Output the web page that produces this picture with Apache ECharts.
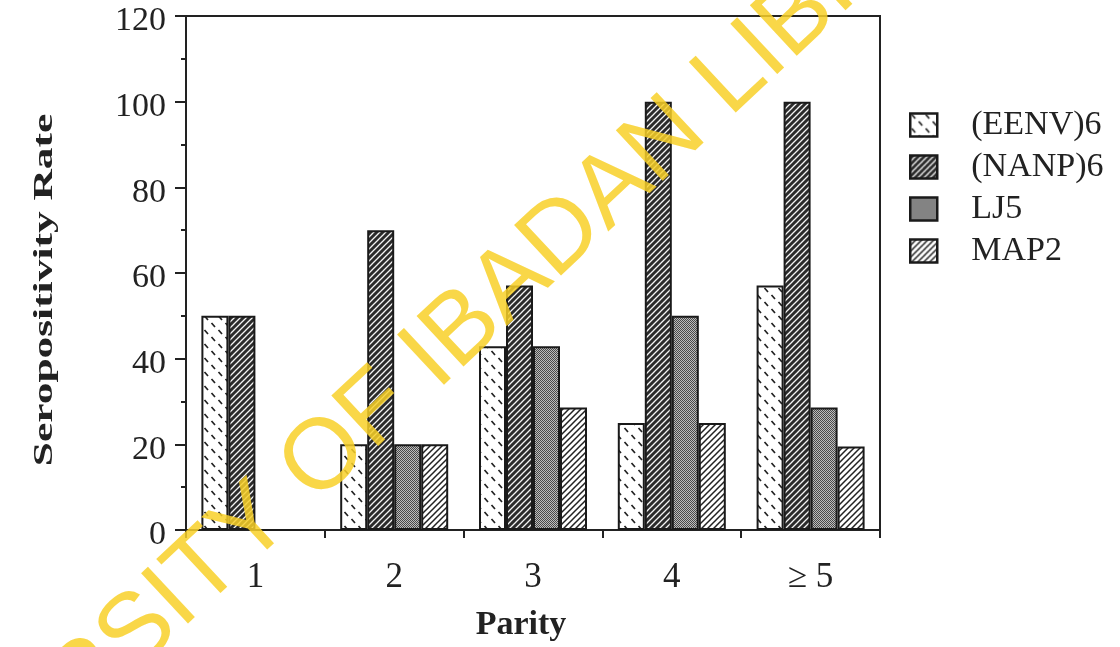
<!DOCTYPE html>
<html><head><meta charset="utf-8">
<script src="https://cdn.jsdelivr.net/npm/echarts@6/dist/echarts.min.js"></script>
<style>html,body{margin:0;padding:0;background:#fff}#c{width:1120px;height:647px}</style>
</head><body><div id="c"></div>
<script>
// ---- data ----
const categories = ['1', '2', '3', '4', '\u2265 5'];
const seriesNames = ['(EENV)6', '(NANP)6', 'LJ5', 'MAP2'];
const eenv = [50, 20, 42.9, 25, 57.1];
const nanp = [50, 70, 57.1, 100, 100];
const lj5  = [0, 20, 42.9, 50, 28.6];
const map2 = [0, 20, 28.6, 25, 19.5];
const yMin = 0, yMax = 120, yStep = 20;
const xTitle = 'Parity';
const yTitle = 'Seropositivity Rate';
const watermark = 'UNIVERSITY OF IBADAN LIBRARY';

// ---- patterns ----
function mk(w, h, draw) {
  const c = document.createElement('canvas'); c.width = w; c.height = h;
  const g = c.getContext('2d'); draw(g, w, h); return c;
}
function stripes(bg, fg, p, lw) {
  return mk(p, p, (g) => {
    g.fillStyle = bg; g.fillRect(0, 0, p, p);
    g.strokeStyle = fg; g.lineWidth = lw; g.beginPath();
    g.moveTo(-1, p + 1); g.lineTo(p + 1, -1);
    g.moveTo(-2, 2); g.lineTo(2, -2);
    g.moveTo(p - 2, p + 2); g.lineTo(p + 2, p - 2);
    g.stroke();
  });
}
const patEENV = mk(14, 14, (g) => {
  g.fillStyle = '#fff'; g.fillRect(0, 0, 14, 14);
  g.strokeStyle = '#222'; g.lineWidth = 1.7; g.beginPath();
  g.moveTo(1.5, 1); g.lineTo(5, 5);
  g.moveTo(8.5, 8); g.lineTo(12, 12);
  g.stroke();
});
const patNANP = stripes('#2b2b2b', '#f4f4f4', 6, 1.3);
const patLJ5 = mk(2, 2, (g) => {
  g.fillStyle = '#bdbdbd'; g.fillRect(0, 0, 2, 2);
  g.fillStyle = '#4a4a4a'; g.fillRect(0, 0, 1, 1); g.fillRect(1, 1, 1, 1);
});
const patMAP2 = stripes('#ffffff', '#222', 6, 1.5);
const patterns = [patEENV, patNANP, patLJ5, patMAP2];
const values = [eenv, nanp, lj5, map2];

const serif = 'Liberation Serif';
const chart = echarts.init(document.getElementById('c'), null, { renderer: 'canvas' });
chart.setOption({
  animation: false,
  backgroundColor: '#ffffff',
  grid: { left: 186, right: 240, top: 16, bottom: 117, show: true, borderColor: '#222', borderWidth: 2, backgroundColor: 'transparent' },
  legend: {
    orient: 'vertical', left: 904, top: 103, itemWidth: 27, itemHeight: 23, itemGap: 8,
    icon: 'rect', data: seriesNames,
    itemStyle: { borderColor: '#1a1a1a', borderWidth: 2.5 },
    textStyle: { fontFamily: serif, fontSize: 34, color: '#222', padding: [0, 0, 0, 29] }
  },
  xAxis: {
    type: 'category', data: categories,
    axisLine: { lineStyle: { color: '#222', width: 2 } },
    axisTick: { show: true, length: 8, lineStyle: { color: '#222', width: 2 } },
    axisLabel: { fontFamily: serif, fontSize: 35, color: '#222', margin: 30 },
    splitLine: { show: false }
  },
  yAxis: {
    type: 'value', min: yMin, max: yMax, interval: yStep,
    axisLine: { show: true, lineStyle: { color: '#222', width: 2 } },
    axisTick: { show: true, length: 11, lineStyle: { color: '#222', width: 2 } },
    minorTick: { show: true, splitNumber: 2, length: 5, lineStyle: { color: '#222', width: 2 } },
    axisLabel: {
      margin: 20, formatter: '{a|{value}}',
      rich: { a: { fontFamily: serif, fontSize: 34, color: '#222', padding: [11, 0, 0, 0] } }
    },
    splitLine: { show: false }
  },
  series: seriesNames.map((n, i) => ({
    name: n, type: 'bar', data: values[i], barWidth: 27, barGap: '0%',
    itemStyle: { color: { image: patterns[i], repeat: 'repeat' }, borderColor: '#1a1a1a', borderWidth: 2 }
  })),
  graphic: [
    { type: 'text', x: 45, y: 290, rotation: Math.PI / 2, scaleX: 1.55, scaleY: 1,
      style: { text: yTitle, font: 'bold 28px "Liberation Serif"', fill: '#222', align: 'center', verticalAlign: 'middle' } },
    { type: 'text', x: 521, y: 625,
      style: { text: xTitle, font: 'bold 34px "Liberation Serif"', fill: '#222', align: 'center', verticalAlign: 'middle' } },
    { type: 'text', x: 430, y: 360, rotation: 43 * Math.PI / 180, z: 100,
      style: { text: watermark, font: 'normal 100px "Liberation Sans"', fill: 'rgba(248,208,40,0.85)', align: 'center', verticalAlign: 'middle' } }
  ]
});
</script></body></html>
